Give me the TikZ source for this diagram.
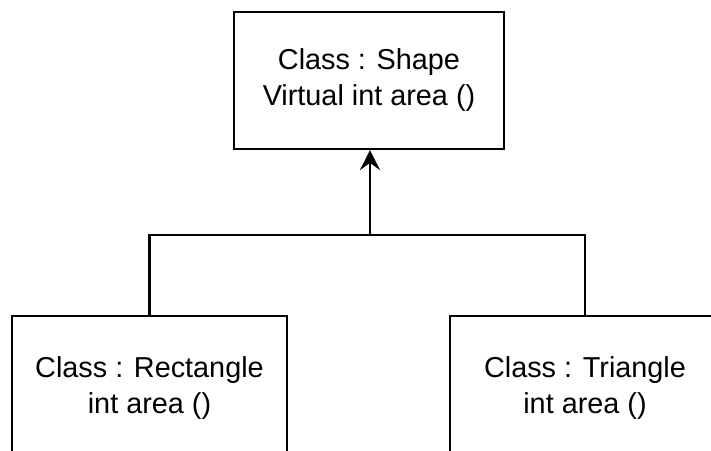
\documentclass[tikz,border=0pt]{standalone}
\usepackage{fontspec}
\setmainfont{Liberation Sans}
\usetikzlibrary{arrows.meta,positioning}
\tikzset{class box/.style={draw, line width=1.5pt, align=center, inner sep=0pt, font=\fontsize{20.5}{25.6}\selectfont}}

\begin{document}
\begin{tikzpicture}
	\useasboundingbox (0,0) rectangle (17.775,-11.25);
	\clip (0,0) rectangle (17.775,-11.25);
	
	\node[class box, minimum width=6.75cm, minimum height=3.425cm] (shape) at (9.225,-2.0125) {Class : Shape\\Virtual int area ()};
	\node[class box, minimum width=6.875cm, minimum height=3.6cm] (rect) at (3.7375,-9.7) {Class : Rectangle\\int area ()};
	\node[class box, minimum width=6.75cm, minimum height=3.6cm] (tri) at (14.625,-9.7) {Class : Triangle\\int area ()};
	
	\coordinate (bar) at (9.25,-5.875);
	
	\draw[line width=1.5pt] (rect.north) |- (bar) -| (tri.north);
	\draw[line width=1.5pt, -{Stealth[length=5mm, width=5mm, inset=1.8mm]}] (bar) -- (bar |- shape.south);
\end{tikzpicture}
\end{document}
